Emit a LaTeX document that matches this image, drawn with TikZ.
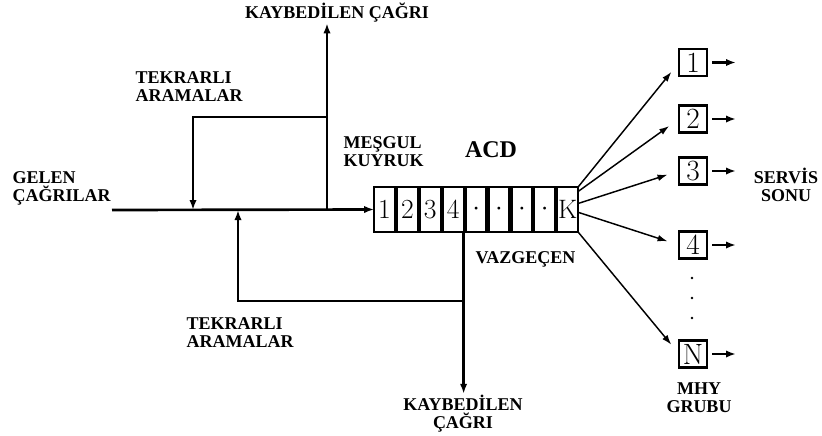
\documentclass[tikz,border=0pt]{standalone}
\usepackage{fontspec}
\newfontfamily\labelfont{Liberation Serif}
\usetikzlibrary{arrows.meta,calc}

\begin{document}
\begin{tikzpicture}[x=0.75pt,y=-0.75pt,
  lbl/.style={font=\labelfont\bfseries\fontsize{13.5}{13.5}\selectfont,inner sep=1pt},
  cell/.style={draw,line width=1.6pt,minimum width=15.6pt,minimum height=33.75pt,inner sep=0pt,outer sep=0pt,font=\fontsize{20}{20}\selectfont},
  srv/.style={draw,line width=1.6pt,minimum width=21pt,minimum height=20.25pt,inner sep=0pt,outer sep=0pt,font=\fontsize{22}{22}\selectfont},
  flow/.style={line width=2pt,-{Latex[length=7.5pt,width=5.5pt]}},
  fan/.style={line width=1.1pt,-{Latex[length=7.5pt,width=5pt]},shorten >=9pt}]
  \useasboundingbox (0,0) rectangle (822,436);
  % ACD queue, 9 places
  \foreach \t [count=\i] in {1,2,3,4,\cdot,\cdot,\cdot,\cdot,\mathrm{K}}
    \node[cell] (q\i) at ({384.5+(\i-1)*22.9},209.5) {$\t$};
  \node[lbl,font=\labelfont\bfseries\fontsize{18}{18}\selectfont] (acd) at (491,150) {ACD};
  % MHY group
  \foreach \t/\y [count=\i] in {1/62.5,2/119,3/171,4/245,N/354}
    \node[srv] (s\i) at (693,\y) {$\mathrm{\t}$};
  \foreach \y in {278,298,318} \fill (692,\y) circle (1pt);
  % labels
  \node[lbl,anchor=base] (lost1) at (337,18) {KAYBEDİLEN ÇAĞRI};
  \node[lbl,align=left,anchor=west] (retry1) at (134,87) {TEKRARLI\\ARAMALAR};
  \node[lbl,align=left,anchor=west] (incoming) at (11,188) {GELEN\\ÇAĞRILAR};
  \node[lbl,align=left,anchor=west] (busy) at (342,152) {MEŞGUL\\KUYRUK};
  \node[lbl,anchor=base west] (abandon) at (474,263) {VAZGEÇEN};
  \node[lbl,align=left,anchor=west] (retry2) at (185,333) {TEKRARLI\\ARAMALAR};
  \node[lbl,align=center] (lost2) at (463,414) {KAYBEDİLEN\\ÇAĞRI};
  \node[lbl,align=center] (endsrv) at (786,185) {SERVİS\\SONU};
  \node[lbl,align=center] (mhy) at (699,398) {MHY\\GRUBU};
  % flow lines
  \coordinate (in) at (112,210);
  \coordinate (j1) at (193,210);
  \coordinate (j2) at (238,210);
  \coordinate (j3) at (327,210);
  \coordinate (r1) at (193,117);
  \coordinate (r2) at (327,117);
  \coordinate (b1) at (463.7,301);
  \coordinate (b2) at (238,301);
  \draw[flow] (in) -- (q1.west);
  \draw[flow] (j3) -- (j3 |- lost1.south);
  \draw[flow] (r2) -- (r1) -- (j1);
  \draw[flow] (q4.south east) -- (q4.south east |- lost2.north);
  \draw[flow] (b1) -- (b2) -- (j2);
  % to the servers
  \draw[fan] (q9.north east) -- (s1.west);
  \draw[fan] (q9.60) -- (s2.west);
  \draw[fan] (q9.30) -- (s3.west);
  \draw[fan] (q9.-15) -- (s4.west);
  \draw[fan] (q9.south east) -- (s5.west);
  \foreach \i in {1,...,5} \draw[flow,shorten <=4pt] (s\i.east) -- ++(29,0);
\end{tikzpicture}
\end{document}
